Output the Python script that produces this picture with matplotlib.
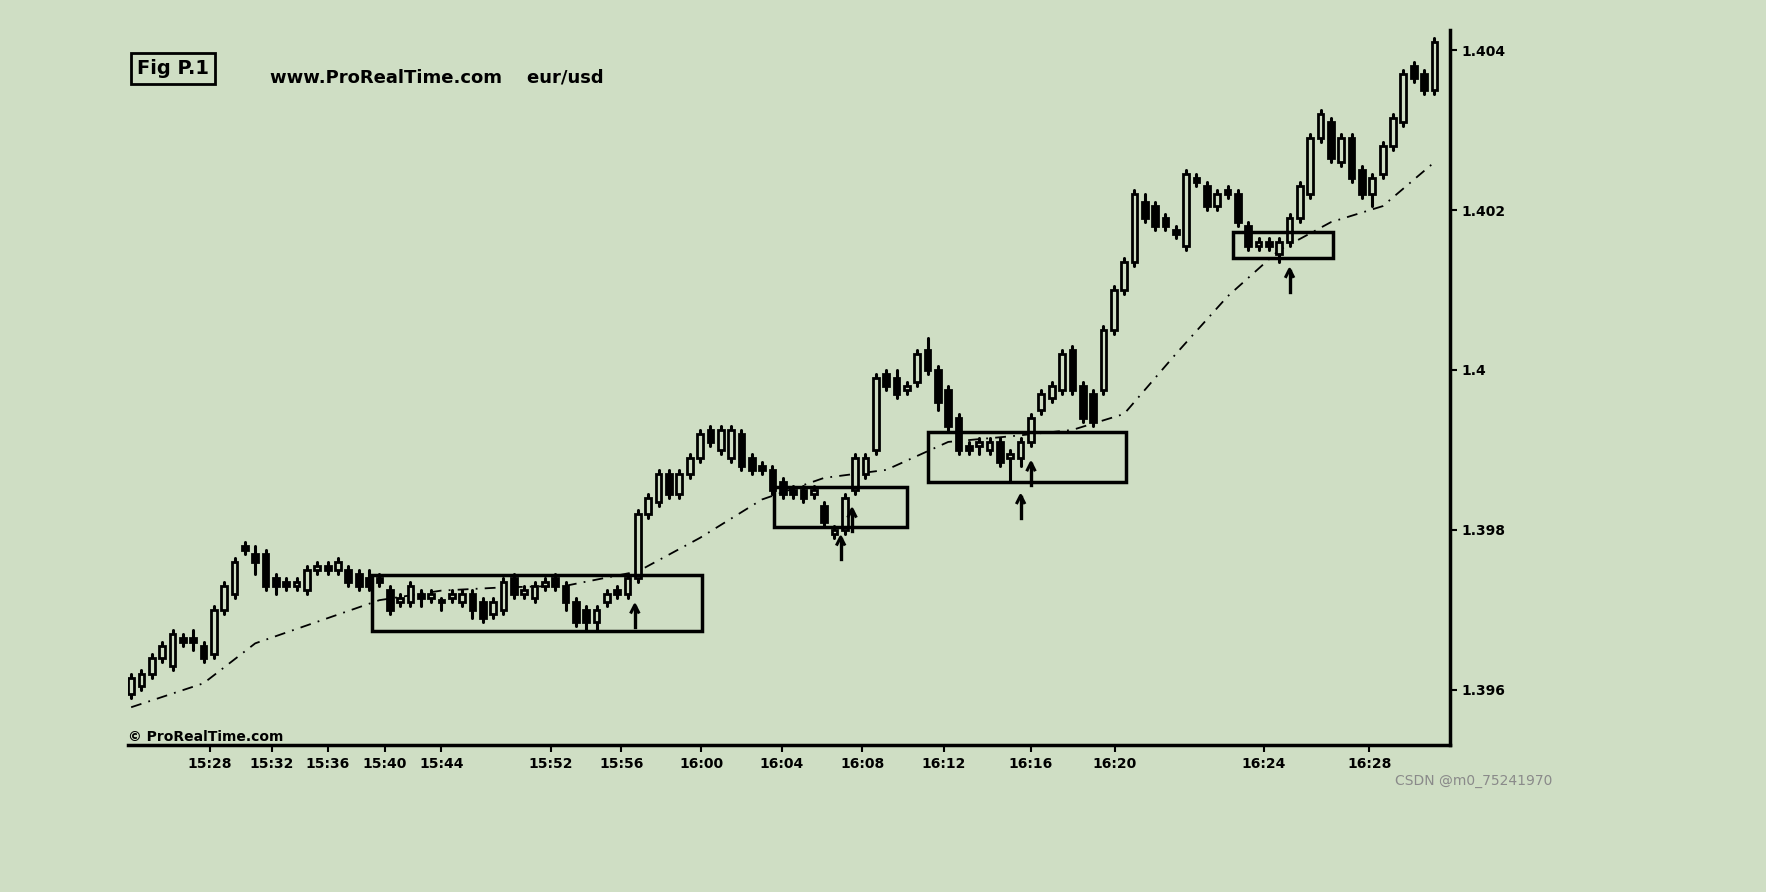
import matplotlib.pyplot as plt
from matplotlib.patches import Rectangle

# candle bodies (eur/usd, 1-minute)
opens = [1.39595, 1.39605, 1.3962, 1.3964, 1.3963, 1.39665, 1.39665, 1.39655, 1.39645, 1.3970,
         1.3972, 1.3978, 1.3977, 1.3977, 1.3974, 1.39735, 1.3973, 1.39725, 1.3975, 1.39755,
         1.3975, 1.3975, 1.39745, 1.3974, 1.3974, 1.39725, 1.3971, 1.3971, 1.3972, 1.39715,
         1.3971, 1.39715, 1.3971, 1.3972, 1.3971, 1.39695, 1.3970, 1.3974, 1.3972, 1.39715,
         1.3973, 1.3974, 1.3973, 1.3971, 1.3970, 1.39685, 1.3971, 1.39725, 1.3972, 1.3974,
         1.3982, 1.39835, 1.3987, 1.39845, 1.3987, 1.3989, 1.39925, 1.3990, 1.3989, 1.3992,
         1.3989, 1.3988, 1.39875, 1.3986, 1.3985, 1.3985, 1.39845, 1.3983, 1.39795, 1.3980,
         1.3985, 1.3987, 1.3990, 1.39995, 1.3999, 1.39975, 1.39985, 1.40025, 1.4000, 1.39975,
         1.3994, 1.39905, 1.39905, 1.3990, 1.3991, 1.3989, 1.3989, 1.3991, 1.3995, 1.39965,
         1.39975, 1.40025, 1.3998, 1.3997, 1.39975, 1.4005, 1.4010, 1.40135, 1.4021, 1.40205,
         1.4019, 1.40175, 1.40155, 1.4024, 1.4023, 1.40205, 1.40225, 1.4022, 1.4018, 1.40155,
         1.4016, 1.40145, 1.4016, 1.4019, 1.4022, 1.4029, 1.4031, 1.4026, 1.4029, 1.4025,
         1.4022, 1.40245, 1.4028, 1.4031, 1.4038, 1.4037, 1.4035]
closes = [1.39615, 1.3962, 1.3964, 1.39655, 1.3967, 1.3966, 1.3966, 1.3964, 1.3970, 1.3973,
          1.3976, 1.39775, 1.3976, 1.3973, 1.3973, 1.3973, 1.39735, 1.3975, 1.39755, 1.3975,
          1.3976, 1.39735, 1.3973, 1.3973, 1.39735, 1.3970, 1.39715, 1.3973, 1.39715, 1.3972,
          1.3971, 1.3972, 1.3972, 1.3970, 1.3969, 1.3971, 1.39735, 1.3972, 1.39725, 1.3973,
          1.39735, 1.3973, 1.3971, 1.39685, 1.39685, 1.3970, 1.3972, 1.3972, 1.3974, 1.3982,
          1.3984, 1.3987, 1.39845, 1.3987, 1.3989, 1.3992, 1.3991, 1.39925, 1.39925, 1.3988,
          1.39875, 1.39875, 1.3985, 1.39845, 1.39845, 1.3984, 1.3985, 1.3981, 1.3980, 1.3984,
          1.3989, 1.3989, 1.3999, 1.3998, 1.3997, 1.3998, 1.4002, 1.4000, 1.3996, 1.3993,
          1.3990, 1.3990, 1.3991, 1.3991, 1.39885, 1.39895, 1.3991, 1.3994, 1.3997, 1.3998,
          1.4002, 1.39975, 1.3994, 1.39935, 1.4005, 1.4010, 1.40135, 1.4022, 1.4019, 1.4018,
          1.4018, 1.4017, 1.40245, 1.40235, 1.40205, 1.4022, 1.4022, 1.40185, 1.40155, 1.4016,
          1.40155, 1.4016, 1.4019, 1.4023, 1.4029, 1.4032, 1.40265, 1.4029, 1.4024, 1.4022,
          1.4024, 1.4028, 1.40315, 1.4037, 1.40365, 1.4035, 1.4041]
# wick lengths above / below the body, in units of 0.00005
upper_wick = [1, 1, 1, 1, 1, 1, 2, 1, 1, 1, 1, 1, 2, 1, 1, 1, 1, 1, 1, 1,
              1, 1, 1, 2, 1, 1, 1, 1, 1, 1, 1, 1, 1, 1, 1, 1, 1, 1, 1, 1,
              1, 1, 1, 1, 1, 1, 1, 1, 1, 1, 1, 1, 1, 1, 1, 1, 1, 1, 1, 1,
              1, 1, 1, 1, 1, 1, 1, 1, 1, 1, 1, 1, 1, 1, 2, 1, 1, 3, 1, 1,
              1, 1, 1, 1, 1, 1, 1, 1, 1, 1, 1, 1, 1, 1, 1, 1, 1, 1, 2, 1,
              1, 1, 1, 1, 1, 1, 1, 1, 1, 1, 1, 1, 1, 1, 1, 1, 1, 1, 1, 1,
              1, 1, 1, 1, 1, 1, 1]
lower_wick = [1, 1, 1, 1, 1, 1, 2, 1, 1, 1, 1, 1, 3, 1, 2, 1, 1, 1, 1, 1,
              1, 1, 1, 1, 1, 1, 1, 1, 2, 1, 2, 1, 1, 2, 1, 1, 1, 1, 1, 1,
              1, 1, 2, 1, 2, 2, 1, 1, 1, 1, 1, 1, 1, 1, 1, 1, 1, 1, 1, 1,
              1, 1, 1, 1, 1, 1, 1, 1, 1, 1, 1, 1, 1, 1, 1, 1, 1, 1, 2, 1,
              1, 1, 2, 1, 1, 6, 2, 1, 1, 1, 1, 1, 1, 1, 1, 1, 1, 1, 1, 1,
              1, 1, 1, 1, 1, 1, 1, 1, 1, 1, 1, 2, 1, 1, 1, 1, 1, 1, 1, 1,
              3, 1, 1, 1, 1, 1, 1]

# moving average (read at candle positions)
ma_idx = [0, 7, 12, 18, 24, 30, 36, 42, 49, 55, 61, 67, 73, 79, 85, 91, 96, 101, 106, 111, 116, 121, 126]
ma_val = [1.39578, 1.39608, 1.39658, 1.39685, 1.39712, 1.39724, 1.39728, 1.39730, 1.39748, 1.39790,
          1.39838, 1.39865, 1.39875, 1.39910, 1.39917, 1.39925, 1.39945, 1.40020, 1.40092, 1.40150,
          1.40185, 1.40205, 1.40260]

# consolidation boxes: (start idx, end idx, low, high)
boxes = [(23.3, 55.2, 1.39673, 1.39743), (62.2, 75.0, 1.39803, 1.39853),
         (77.0, 96.2, 1.39860, 1.39923), (106.5, 116.2, 1.40140, 1.40173)]
# arrow tails (idx, price)
arrows = [(48.7, 1.39678), (68.6, 1.39763), (69.7, 1.39798), (86.0, 1.39815), (87.0, 1.39856),
          (112.0, 1.40098)]

tick_pos = [7.6, 13.6, 19.0, 24.5, 30.0, 40.6, 47.4, 55.1, 62.9, 70.7, 78.6, 87.0, 95.1, 109.5, 119.7]
tick_labels = ['15:28', '15:32', '15:36', '15:40', '15:44', '15:52', '15:56', '16:00', '16:04',
               '16:08', '16:12', '16:16', '16:20', '16:24', '16:28']
price_ticks = [1.396, 1.398, 1.400, 1.402, 1.404]
price_labels = ['1.396', '1.398', '1.4', '1.402', '1.404']

bg = '#cfdec4'
fig = plt.figure(figsize=(17.66, 8.92), dpi=100, facecolor=bg)
ax = fig.add_axes([0.0725, 0.165, 0.7485, 0.801])
ax.set_facecolor(bg)

pip = 0.00005
w = 0.55
for i in range(len(opens)):
    o, c = opens[i], closes[i]
    lo, hi = min(o, c), max(o, c)
    ax.plot([i, i], [lo - lower_wick[i] * pip, hi + upper_wick[i] * pip], color='black', lw=2.2,
            solid_capstyle='round', zorder=2)
    h = max(hi - lo, 0.00002)
    ax.add_patch(Rectangle((i - w / 2, lo), w, h, facecolor='black' if c < o else bg,
                           edgecolor='black', lw=2, zorder=3))

ax.plot(ma_idx, ma_val, color='black', lw=1.3, ls=(0, (6, 4, 1, 4)), zorder=1)

for x0, x1, lo, hi in boxes:
    ax.add_patch(Rectangle((x0, lo), x1 - x0, hi - lo, fill=False, edgecolor='black', lw=2.5, zorder=4))

for x, y in arrows:
    ax.plot([x, x], [y, y + 0.00026], color='black', lw=2.4, zorder=5)
    ax.plot([x - 0.35, x, x + 0.35], [y + 0.00019, y + 0.00028, y + 0.00019], color='black',
            lw=2.2, zorder=5)

ax.set_xlim(-0.3, 127.5)
ax.set_ylim(1.39531, 1.40425)
ax.spines['left'].set_visible(False)
ax.spines['top'].set_visible(False)
ax.spines['right'].set_linewidth(2.5)
ax.spines['bottom'].set_linewidth(2.5)
ax.yaxis.tick_right()
ax.set_yticks(price_ticks)
ax.set_yticklabels(price_labels, fontsize=10, fontweight='bold')
ax.set_xticks(tick_pos)
ax.set_xticklabels(tick_labels, fontsize=10, fontweight='bold')
ax.tick_params(axis='both', length=5, width=1.5, direction='out')

ax.text(0.0, 0.005, '© ProRealTime.com', transform=ax.transAxes, fontsize=10, fontweight='bold')
fig.text(0.0775, 0.917, 'Fig P.1', fontsize=14, fontweight='bold',
         bbox=dict(boxstyle='square,pad=0.3', facecolor=bg, edgecolor='black', lw=2))
fig.text(0.153, 0.907, 'www.ProRealTime.com    eur/usd', fontsize=13, fontweight='bold')
fig.text(0.79, 0.12, 'CSDN @m0_75241970', fontsize=10, color='#8a8a8a')

plt.savefig('out.png', dpi=100, facecolor=bg)
